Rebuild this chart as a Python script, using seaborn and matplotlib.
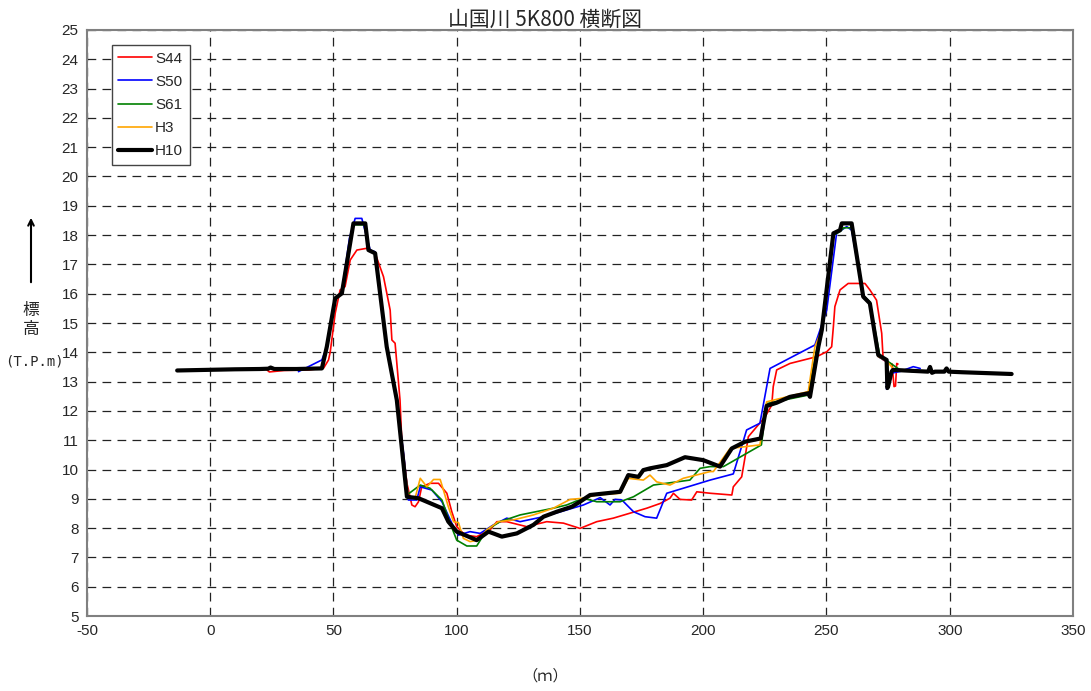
import numpy as np
import pandas as pd
import matplotlib
matplotlib.use('Agg')
import matplotlib.pyplot as plt
import seaborn as sns

# 山国川 5K800 cross-section
s44_x = [23, 24, 30, 40, 46, 48, 48.7, 50.7, 52.7, 54.7, 56.8, 59.5, 63.5, 66.9, 70.3, 73, 73.7, 75,
         77, 77.7, 79.8, 81.8, 83.1, 84.5, 85.8, 89.2, 92.6, 96, 98, 100, 103.4, 108.1, 113.5, 116.3,
         120.3, 128.4, 136.5, 143.3, 150, 156.8, 163.5, 170.3, 177.1, 182.5, 186.5, 187.9, 190.6,
         195.3, 197.4, 202.8, 211.6, 212.2, 215.6, 217, 218.3, 221.7, 225.1, 227.8, 228.4, 229.8,
         235.2, 246, 250.1, 252.1, 252.8, 253.4, 255.5, 258.8, 265.6, 267.6, 270.3, 272.4, 273,
         275.7, 276.6, 277.4, 278, 278.5, 279]
s44_y = [13.40, 13.33, 13.38, 13.40, 13.46, 13.74, 14.02, 15.33, 16.13, 16.24, 17.15, 17.49, 17.55,
         17.38, 16.58, 15.44, 14.42, 14.31, 12.37, 11.0, 9.53, 8.79, 8.73, 8.90, 9.41, 9.53, 9.53,
         9.19, 8.56, 8.05, 7.76, 7.71, 7.94, 8.22, 8.22, 8.05, 8.22, 8.17, 7.99, 8.22, 8.34, 8.51,
         8.68, 8.84, 9.02, 9.19, 8.98, 8.96, 9.24, 9.19, 9.13, 9.41, 9.75, 10.44, 11.12, 11.46, 11.80,
         12.20, 12.83, 13.40, 13.62, 13.85, 14.02, 14.19, 14.88, 15.56, 16.13, 16.35, 16.35, 16.13,
         15.78, 14.65, 13.74, 13.62, 13.60, 12.83, 12.85, 13.62, 13.60]

s50_x = [35.8, 45.3, 47.3, 50.7, 53.4, 56.5, 58.8, 61.5, 64.9, 66.9, 71.6, 75.7, 78.5, 80.4, 83.8,
         85.2, 89.9, 94, 98, 100.7, 105.4, 109.5, 114.9, 120.3, 125.7, 135.2, 144.6, 151.4, 158.2,
         162.2, 164.2, 167, 171.7, 176.4, 181.1, 185.2, 202.8, 212.2, 217.6, 223, 227.1, 245.3,
         250.1, 254.1, 258.2, 260.2, 264.9, 267.6, 271, 274.1, 274.4, 276.4, 280, 285.2, 288]
s50_y = [13.34, 13.74, 14.19, 15.84, 16.05, 17.9, 18.57, 18.57, 17.49, 17.43, 14.19, 12.37, 10.5,
         8.96, 8.96, 9.41, 9.30, 8.90, 8.17, 7.76, 7.88, 7.82, 8.11, 8.34, 8.22, 8.39, 8.62, 8.79,
         9.04, 8.79, 8.98, 8.96, 8.56, 8.39, 8.34, 9.19, 9.64, 9.85, 11.35, 11.58, 13.45, 14.25,
         15.44, 18.06, 18.29, 18.17, 15.95, 15.70, 13.85, 13.70, 12.74, 13.29, 13.35, 13.51, 13.45]

s61_x = [44, 45.3, 47.3, 50.7, 53.4, 58.1, 62.9, 64.2, 66.9, 71.6, 75.7, 79.8, 85.2, 89.2, 94, 97.3,
         100, 104.1, 108.1, 112.2, 117.6, 125.7, 139.2, 144.6, 151.4, 156.8, 166.3, 171.7, 179.8,
         194.6, 198.7, 202.8, 208.2, 223.6, 225.7, 242.6, 246, 248.1, 252.8, 255.5, 257, 260.2,
         264.9, 267.6, 271.7, 275.1, 279.8, 285.2, 290]
s61_y = [13.45, 13.45, 14.19, 15.84, 16.01, 18.35, 18.35, 17.49, 17.38, 14.19, 12.37, 9.13, 9.47,
         9.36, 8.96, 8.17, 7.59, 7.39, 7.39, 7.94, 8.22, 8.45, 8.68, 8.79, 9.02, 8.90, 8.90, 9.07,
         9.47, 9.64, 10.04, 10.10, 10.10, 10.84, 12.25, 12.54, 14.08, 14.76, 18.0, 18.12, 18.25,
         18.25, 15.95, 15.72, 13.85, 13.68, 13.40, 13.34, 13.34]

h3_x = [44, 45.3, 47.3, 50.7, 53.4, 58.1, 62.9, 64.2, 66.9, 71.6, 75.7, 80.4, 83.1, 85.2, 87.9,
        90.6, 93.3, 94.6, 96.6, 98.7, 100.7, 102.7, 105.4, 108.8, 112.2, 116.9, 123, 131.1, 139.2,
        146, 151.4, 156.8, 166.3, 169.6, 175.7, 178.4, 181.1, 186.5, 191.9, 202.8, 204.1, 210.9,
        223, 225.7, 242.6, 245.3, 248.1, 252.8, 255.5, 256.2, 260.2, 264.9, 267.6, 271, 274.4, 277]
h3_y = [13.45, 13.5, 14.25, 15.84, 16.01, 18.38, 18.38, 17.49, 17.38, 14.19, 12.37, 9.02, 9.02,
        9.70, 9.41, 9.66, 9.66, 9.30, 8.73, 8.22, 8.19, 7.65, 7.54, 7.59, 7.94, 8.22, 8.28, 8.45,
        8.68, 8.98, 9.02, 9.13, 9.19, 9.70, 9.64, 9.81, 9.58, 9.47, 9.70, 9.93, 9.93, 10.72, 10.84,
        12.31, 12.66, 14.19, 14.76, 18.06, 18.17, 18.38, 18.38, 15.90, 15.67, 13.85, 13.70, 13.45]

h10_x = [-13.4, 10, 20, 23.5, 24.5, 26, 35, 45.3, 47.3, 50.7, 53.4, 58.1, 62.9, 64.2, 66.9, 71.6,
         75.7, 79.8, 84.5, 94, 96.6, 100, 108.1, 112.9, 118.3, 124.4, 131.1, 135.2, 140.6, 146.7,
         150, 154.1, 166.3, 169.6, 173.7, 175.7, 178.4, 185.2, 192.6, 200, 206.8, 211.6, 217, 223.3,
         225.7, 229.8, 235.2, 242.6, 243.3, 246.7, 248.1, 252.8, 255.5, 256.2, 260.2, 264.9, 267.6,
         271, 274.4, 274.7, 275, 276.4, 277, 291.2, 292, 292.8, 294, 297.8, 298.7, 299.6, 305, 325.1]
h10_y = [13.38, 13.42, 13.43, 13.44, 13.48, 13.43, 13.43, 13.45, 14.19, 15.84, 16.01, 18.40, 18.40,
         17.49, 17.38, 14.19, 12.37, 9.07, 9.02, 8.68, 8.22, 7.88, 7.59, 7.88, 7.71, 7.82, 8.11,
         8.39, 8.56, 8.73, 8.90, 9.13, 9.24, 9.81, 9.75, 9.98, 10.04, 10.15, 10.42, 10.32, 10.10,
         10.72, 10.95, 11.06, 12.17, 12.28, 12.48, 12.60, 12.48, 14.19, 14.76, 18.06, 18.17, 18.40,
         18.40, 15.90, 15.67, 13.91, 13.74, 12.78, 12.83, 13.34, 13.40, 13.34, 13.50, 13.30, 13.34,
         13.34, 13.45, 13.34, 13.32, 13.26]

series = [
    ('S44', s44_x, s44_y, '#ff0000', 1.2),
    ('S50', s50_x, s50_y, '#0000ff', 1.2),
    ('S61', s61_x, s61_y, '#008000', 1.2),
    ('H3', h3_x, h3_y, '#ffa500', 1.2),
    ('H10', h10_x, h10_y, '#000000', 3.0),
]

sns.set_style('white')
plt.rcParams['font.family'] = ['Liberation Sans Narrow', 'Liberation Sans', 'DejaVu Sans']
plt.rcParams['axes.unicode_minus'] = False

fig = plt.figure(figsize=(10.91, 6.91), dpi=100)
ax = fig.add_axes([0.0797, 0.1085, 0.9038, 0.8481])

for name, xs, ys, col, lw in series:
    sns.lineplot(x=xs, y=ys, sort=False, estimator=None, color=col, lw=lw, label=name, ax=ax)

ax.set_xlim(-50, 350)
ax.set_ylim(5, 25)
ax.set_xticks(np.arange(-50, 351, 50))
ax.set_yticks(np.arange(5, 26, 1))
ax.grid(True, color='#222222', linestyle=(0, (7, 5)), linewidth=0.9)
ax.tick_params(axis='both', direction='in', length=4, labelsize=11, pad=6)
for sp in ax.spines.values():
    sp.set_color('#808080')
    sp.set_linewidth(1.5)

leg = ax.legend(loc='upper left', bbox_to_anchor=(0.025, 0.975), borderaxespad=0, frameon=True,
                fancybox=False, framealpha=1, edgecolor='#444444', fontsize=11,
                handlelength=2.2, labelspacing=0.6, borderpad=0.45, handletextpad=0.2)
leg.get_frame().set_linewidth(1.0)

jp = ['Noto Sans CJK JP', 'DejaVu Sans']
fig.text(0.5, 0.972, '山国川 5K800 横断図', ha='center', va='center', fontsize=15, family=jp)
fig.text(0.5, 0.022, '（ｍ）', ha='center', va='center', fontsize=11, family=jp)

# y-axis label: arrow, 標高, (T.P.m)
ax.annotate('', xy=(31 / 1091, 1 - 215 / 691), xytext=(31 / 1091, 1 - 285 / 691),
            xycoords='figure fraction',
            arrowprops=dict(arrowstyle='->', color='black', lw=1.5))
fig.text(31 / 1091, 1 - 320 / 691, '標\n高', ha='center', va='center', fontsize=12,
         family=jp, linespacing=1.1)
fig.text(34 / 1091, 1 - 362 / 691, '(T.P.m)', ha='center', va='center', fontsize=10,
         family=['DejaVu Sans Mono'])

fig.savefig('out.png', dpi=100, facecolor='white')
